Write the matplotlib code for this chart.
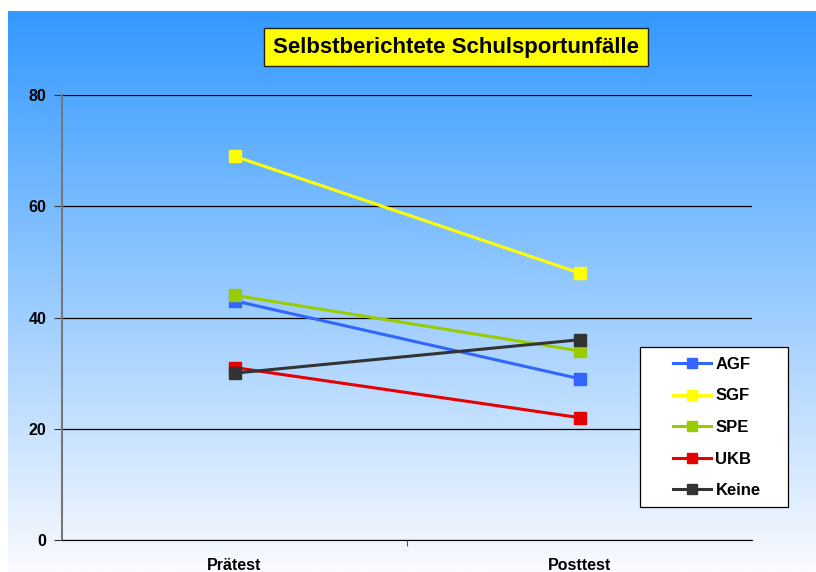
import matplotlib.pyplot as plt
from matplotlib.patches import Rectangle
import numpy as np

phasen = ["Prätest", "Posttest"]
gruppen = ["AGF", "SGF", "SPE", "UKB", "Keine"]
werte = {
    "AGF": [43, 29],
    "SGF": [69, 48],
    "SPE": [44, 34],
    "UKB": [31, 22],
    "Keine": [30, 36],
}
farben = {
    "AGF": "#3366ff",
    "SGF": "#ffff00",
    "SPE": "#99cc00",
    "UKB": "#e60000",
    "Keine": "#333333",
}

plt.rcParams['font.family'] = ['Liberation Sans', 'DejaVu Sans']

fig = plt.figure(figsize=(8.16, 5.72), dpi=100)
W, H = 816, 572

# gradient background
bg = fig.add_axes([8 / W, 0, 1 - 8 / W, 1 - 11 / H])
bg.axis('off')
t = np.linspace(0, 1, 256)[:, None]
top = np.array([0x33, 0x99, 0xff]) / 255
bot = np.array([0xfa, 0xfb, 0xff]) / 255
grad = top + (bot - top) * t[..., None]
grad = np.repeat(grad, 2, axis=1)
bg.imshow(grad, aspect='auto', extent=[0, 1, 0, 1])

ax = fig.add_axes([62 / W, 1 - 540 / H, 690 / W, 445 / H])
ax.patch.set_alpha(0)
x = np.arange(len(phasen))
for g in gruppen:
    ax.plot(x, werte[g], color=farben[g], lw=2.2, marker='s', markersize=8.5,
            label=g)

ax.set_xlim(-0.5, 1.5)
ax.set_ylim(0, 80)
ax.set_yticks([0, 20, 40, 60, 80])
ax.yaxis.grid(True, color='black', lw=0.9)
ax.set_axisbelow(True)
ax.set_xticks([0.5])
ax.set_xticklabels([])
ax.tick_params(axis='x', length=4, color='#555555')
ax.tick_params(axis='y', length=6, color='#333333', labelsize=11.5, pad=5)
for lab in ax.get_yticklabels():
    lab.set_fontweight('bold')
for i, p in enumerate(phasen):
    ax.text(i, -4.6, p, ha='center', va='center', fontsize=11.5,
            fontweight='bold')
for s in ['top', 'right']:
    ax.spines[s].set_visible(False)
ax.spines['left'].set_color('#777777')
ax.spines['left'].set_linewidth(1.5)
ax.spines['bottom'].set_color('black')

# legend box drawn separately so its size matches
box = Rectangle((640 / W, 1 - 507 / H), 148 / W, 160 / H,
                transform=fig.transFigure, facecolor='white',
                edgecolor='black', lw=0.9, zorder=5, clip_on=False)
ax.add_artist(box)
leg = ax.legend(loc='upper left', bbox_to_anchor=(668 / W, 1 - 352 / H),
                bbox_transform=fig.transFigure, frameon=False,
                labelspacing=0.99, handlelength=2.3, handletextpad=0.25,
                borderaxespad=0, borderpad=0.3,
                prop={'weight': 'bold', 'size': 12})
leg.set_zorder(6)
for h in leg.legend_handles:
    h.set_markersize(7.5)

fig.text(456 / W, 1 - 47 / H, "Selbstberichtete Schulsportunfälle",
         ha='center', va='center', fontsize=16, fontweight='bold',
         bbox=dict(boxstyle='square,pad=0.4', facecolor='#ffff00',
                   edgecolor='#222222', lw=1))

fig.savefig('out.png', dpi=100)
